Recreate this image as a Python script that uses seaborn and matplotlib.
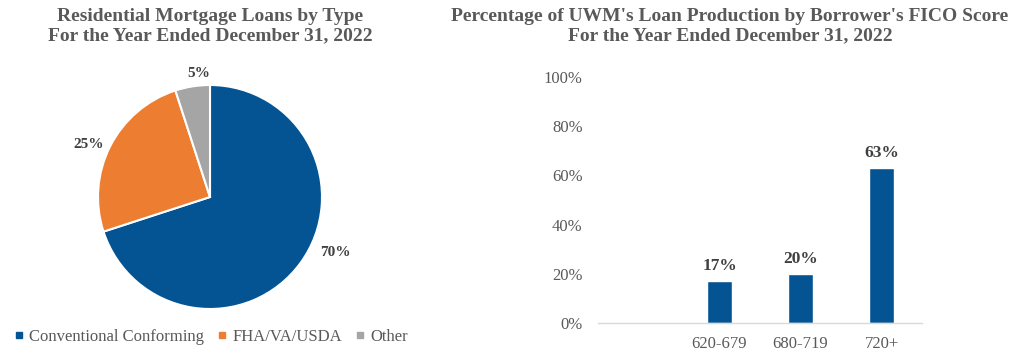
import matplotlib
matplotlib.use("Agg")
import matplotlib.pyplot as plt
import seaborn as sns
import numpy as np

# ---- data ----
pie_labels = ["Conventional Conforming", "FHA/VA/USDA", "Other"]
pie_values = [70, 25, 5]
pie_colors = ["#045494", "#ED7D31", "#A5A5A5"]

fico_categories = ["620-679", "680-719", "720+"]
fico_values = [17, 20, 63]
bar_color = "#045494"

y_ticks = [0, 20, 40, 60, 80, 100]

sns.set_theme(style="white")
plt.rcParams["font.family"] = ["Liberation Serif", "DejaVu Serif"]

title_color = "#595959"
tick_color = "#595959"
label_color = "#404040"

fig = plt.figure(figsize=(10.28, 3.54), dpi=100)

# ---- pie ----
W, H = 1028, 354
cx, cy, half = 210, 354 - 197, 140
axp = fig.add_axes([(cx - half) / W, (cy - half) / H, 2 * half / W, 2 * half / H])
wedges, texts, autotexts = axp.pie(
    pie_values, colors=pie_colors, startangle=90, counterclock=False,
    autopct=lambda p: f"{p:.0f}%", pctdistance=1.18,
    wedgeprops=dict(edgecolor="white", linewidth=1.5),
    textprops=dict(fontsize=11, fontweight="bold", color=label_color),
)
# slight nudges to follow the reference label placement
autotexts[0].set_position((1.12, -0.5))
autotexts[1].set_position((-1.08, 0.47))
autotexts[2].set_position((-0.1, 1.1))
axp.set_xlim(-1.25, 1.25)
axp.set_ylim(-1.25, 1.25)
axp.set_aspect("equal")

fig.text(cx / W, 1 - 26 / H, "Residential Mortgage Loans by Type\nFor the Year Ended December 31, 2022",
         ha="center", va="center", fontsize=14, fontweight="bold", color=title_color,
         linespacing=1.12)

handles = [plt.Line2D([], [], marker="s", linestyle="", color=c, markersize=5) for c in pie_colors]
fig.legend(handles, pie_labels, loc="center", bbox_to_anchor=(cx / W, 17 / H), ncol=3,
           frameon=False, fontsize=12, handletextpad=0.2, columnspacing=0.7,
           labelcolor=tick_color, handlelength=0.8)

# ---- bars ----
x0, x1 = 598, 922
y0, y1 = 354 - 323, 354 - 77
axb = fig.add_axes([x0 / W, y0 / H, (x1 - x0) / W, (y1 - y0) / H])
sns.barplot(x=fico_categories, y=fico_values, order=fico_categories, color=bar_color,
            width=0.31, saturation=1, ax=axb)
axb.set_xlim(-1.5, 2.5)
axb.set_ylim(0, 100)
axb.set_yticks(y_ticks)
axb.set_yticklabels([f"{v}%" for v in y_ticks])
for s in ["top", "right", "left"]:
    axb.spines[s].set_visible(False)
axb.spines["bottom"].set_color("#D9D9D9")
axb.spines["bottom"].set_linewidth(1)
axb.tick_params(axis="both", length=0, labelsize=12, labelcolor=tick_color)
axb.tick_params(axis="y", pad=11)
axb.tick_params(axis="x", pad=9)
axb.set_xlabel("")
axb.set_ylabel("")
for i, v in enumerate(fico_values):
    axb.annotate(f"{v}%", (i, v), xytext=(0, 5), textcoords="offset points",
                 ha="center", va="bottom", fontsize=12.5, fontweight="bold", color=label_color)

fig.text(730 / W, 1 - 26 / H,
         "Percentage of UWM's Loan Production by Borrower's FICO Score\nFor the Year Ended December 31, 2022",
         ha="center", va="center", fontsize=14, fontweight="bold", color=title_color,
         linespacing=1.12)

fig.savefig("out.png", dpi=100, facecolor="white")
